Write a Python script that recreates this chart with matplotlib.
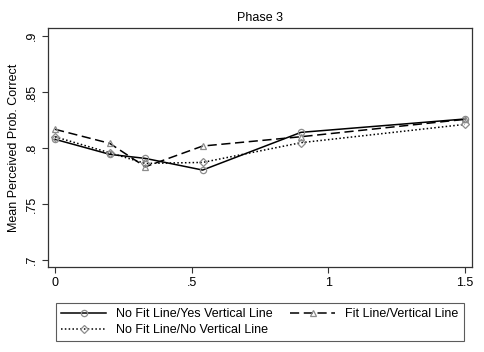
import numpy as np
import matplotlib
matplotlib.use("Agg")
import matplotlib.pyplot as plt

plt.rcParams["font.family"] = ["Liberation Sans", "DejaVu Sans"]

# Data
x_vals = [0, 0.2, 0.33, 0.54, 0.9, 1.5]
no_fit_yes_vert = [0.8078, 0.7944, 0.7908, 0.7804, 0.8140, 0.8259]
fit_vert = [0.8167, 0.8042, 0.7833, 0.8018, 0.8101, 0.8256]
no_fit_no_vert = [0.8100, 0.7958, 0.7863, 0.7872, 0.8048, 0.8211]

x_ticks = [0, 0.5, 1, 1.5]
x_labels = ["0", ".5", "1", "1.5"]
y_ticks = [0.7, 0.75, 0.8, 0.85, 0.9]
y_labels = [".7", ".75", ".8", ".85", ".9"]

fig = plt.figure(figsize=(4.85, 3.52), dpi=100)
ax = fig.add_axes([48 / 485, 1 - 267 / 352, 424 / 485, 239 / 352])

gray = "#8c8c8c"

l1, = ax.plot(x_vals, no_fit_yes_vert, color="black", linestyle="-", linewidth=1.1,
              marker="o", markersize=4.5, markerfacecolor="none",
              markeredgecolor=gray, markeredgewidth=0.9,
              label="No Fit Line/Yes Vertical Line")
l2, = ax.plot(x_vals, fit_vert, color="black", linestyle=(0, (6, 3)), linewidth=1.1,
              marker="^", markersize=5, markerfacecolor="none",
              markeredgecolor=gray, markeredgewidth=0.9,
              label="Fit Line/Vertical Line")
l3, = ax.plot(x_vals, no_fit_no_vert, color="black", linestyle=(0, (1, 1.5)), linewidth=1.1,
              marker="D", markersize=4, markerfacecolor="none",
              markeredgecolor=gray, markeredgewidth=0.9,
              label="No Fit Line/No Vertical Line")

ax.set_xlim(-0.026, 1.526)
ax.set_ylim(0.694, 0.907)

ax.set_xticks(x_ticks)
ax.set_xticklabels(x_labels, fontsize=9)
ax.set_yticks(y_ticks)
ax.set_yticklabels(y_labels, fontsize=9, rotation=90, va="center")
ax.tick_params(direction="out", length=4, width=0.8, color="#333333")

ax.set_ylabel("Mean Perceived Prob. Correct", fontsize=9)
ax.set_title("Phase 3", fontsize=9, pad=5)

for s in ax.spines.values():
    s.set_linewidth(0.9)
    s.set_color("#333333")

# column-wise fill: solid + dotted in first column, dashed in second
handles = [l1, l3, l2]
labels = [h.get_label() for h in handles]
leg = fig.legend(handles, labels, loc="center", bbox_to_anchor=(260 / 485, 1 - 322 / 352),
                 ncol=2, fontsize=9, frameon=True, fancybox=False,
                 edgecolor="#333333", handlelength=3.6, columnspacing=1.4,
                 borderpad=0.4, labelspacing=0.3, handletextpad=0.8)
leg.get_frame().set_linewidth(0.8)

fig.savefig("out.png", dpi=100)
